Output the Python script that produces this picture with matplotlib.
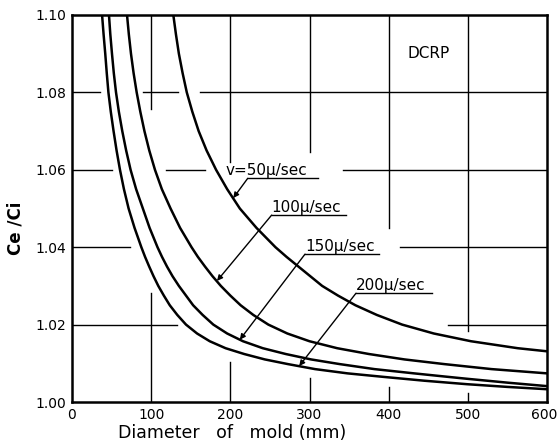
import matplotlib
matplotlib.use("Agg")
import matplotlib.pyplot as plt
import matplotlib.transforms as mtransforms

# curves (diameter in mm, Ce/Ci)
d_50 = [128, 131.3, 135, 139.7, 145, 152, 160, 170, 182, 196, 212, 233, 257, 271, 286, 301, 316, 336, 358, 385, 417, 457, 504, 563, 600]
r_50 = [1.100, 1.095, 1.090, 1.085, 1.080, 1.075, 1.070, 1.065, 1.060, 1.055, 1.050, 1.045, 1.040, 1.0375, 1.035, 1.0325, 1.030, 1.0275, 1.025, 1.0225, 1.020, 1.0177, 1.0157, 1.0139, 1.0131]

d_100 = [69.5, 71.8, 74.5, 77.8, 81.7, 86.3, 91.5, 97.6, 104.8, 113.5, 124.5, 136.5, 151, 159, 168, 177.5, 188, 200, 213, 229, 248, 272, 300, 335, 375, 420, 470, 530, 600]
r_100 = [1.100, 1.095, 1.090, 1.085, 1.080, 1.075, 1.070, 1.065, 1.060, 1.055, 1.050, 1.045, 1.040, 1.0375, 1.035, 1.0325, 1.030, 1.0275, 1.025, 1.0225, 1.020, 1.0177, 1.0157, 1.0139, 1.0124, 1.0110, 1.0098, 1.0085, 1.0074]

d_150 = [46.7, 48.4, 50.5, 52.8, 55.6, 59.2, 63.5, 68.4, 74, 81, 89.5, 98, 108, 113.7, 120, 127, 135, 144, 153, 165, 178.5, 196, 216, 241, 270, 302, 338, 382, 432, 470, 499, 550, 600]
r_150 = [1.100, 1.095, 1.090, 1.085, 1.080, 1.075, 1.070, 1.065, 1.060, 1.055, 1.050, 1.045, 1.040, 1.0375, 1.035, 1.0325, 1.030, 1.0275, 1.025, 1.0225, 1.020, 1.0177, 1.0157, 1.0139, 1.0124, 1.0110, 1.0098, 1.0085, 1.0074, 1.0066, 1.0060, 1.0050, 1.0041]

d_200 = [38, 39.9, 42, 43.9, 46, 49, 52.5, 56.3, 60.6, 65.6, 71.5, 79, 87.6, 92.3, 97.5, 103, 109, 116, 123.5, 133, 144, 158, 174, 194, 217.5, 243.6, 272.6, 307, 348, 393, 445, 499, 550, 600]
r_200 = [1.100, 1.095, 1.090, 1.085, 1.080, 1.075, 1.070, 1.065, 1.060, 1.055, 1.050, 1.045, 1.040, 1.0375, 1.035, 1.0325, 1.030, 1.0275, 1.025, 1.0225, 1.020, 1.0177, 1.0157, 1.0139, 1.0124, 1.0110, 1.0098, 1.0085, 1.0074, 1.0065, 1.0055, 1.0046, 1.0039, 1.0033]

labels = ["v=50\u00b5/sec", "100\u00b5/sec", "150\u00b5/sec", "200\u00b5/sec"]

xticks = [0, 100, 200, 300, 400, 500, 600]
yticks = [1.00, 1.02, 1.04, 1.06, 1.08, 1.10]

# broken grid of the original drawing
vgrid = [(100, 1.0756, 1.10), (100, 1.00, 1.0281),
         (200, 1.062, 1.10), (200, 1.00, 1.0103),
         (300, 1.0645, 1.10), (300, 1.00, 1.0062),
         (400, 1.045, 1.10), (400, 1.00, 1.0039),
         (500, 1.0183, 1.10), (500, 1.00, 1.0023)]
hgrid = [(1.08, 0, 35), (1.08, 90, 134), (1.08, 162, 600),
         (1.06, 0, 50), (1.06, 119, 168), (1.06, 342, 600),
         (1.04, 0, 73), (1.04, 414, 600),
         (1.02, 0, 132), (1.02, 475, 600)]

fig = plt.figure(figsize=(5.58, 4.47), dpi=100)
ax = fig.add_axes([72/558, 1-402/447, 475/558, 387/447])

for x, y0, y1 in vgrid:
    ax.plot([x, x], [y0, y1], color='black', lw=1.0)
for y, x0, x1 in hgrid:
    ax.plot([x0, x1], [y, y], color='black', lw=1.0)

for d, r in [(d_50, r_50), (d_100, r_100), (d_150, r_150), (d_200, r_200)]:
    ax.plot(d, r, color='black', lw=1.8, solid_joinstyle='round')

# labels: text, underline and arrow to the curve
# (text left x, text y, underline x0, x1, y, arrow tip x, y)
lab_pos = [(194.5, 1.0599, 222, 310.7, 1.0578, 203.7, 1.0527),
           (252.2, 1.0502, 252.2, 345.7, 1.0483, 183.2, 1.0313),
           (294.3, 1.0401, 294.3, 387.8, 1.0382, 212, 1.0161),
           (358.7, 1.0300, 358.7, 454.7, 1.0281, 287, 1.0093)]
for lab, (tx, ty, u0, u1, uy, ax_, ay) in zip(labels, lab_pos):
    ax.text(tx, ty, lab, fontsize=11, va='center', ha='left')
    ax.plot([u0, u1], [uy, uy], color='black', lw=1.0)
    ax.annotate('', xy=(ax_, ay), xytext=(u0, uy),
                arrowprops=dict(arrowstyle='-|>', color='black', lw=1.0,
                                mutation_scale=8, shrinkA=0, shrinkB=0))

ax.text(450, 1.090, "DCRP", fontsize=11, ha='center', va='center')

ax.set_xlim(0, 600)
ax.set_ylim(1.00, 1.10)
ax.set_xticks(xticks)
ax.set_yticks(yticks)
ax.set_xticklabels([str(t) for t in xticks])
ax.set_yticklabels(["%.2f" % t for t in yticks])
ax.tick_params(length=0, labelsize=10, pad=4)
last = ax.get_xticklabels()[-1]
last.set_horizontalalignment('right')
last.set_transform(last.get_transform() +
                   mtransforms.ScaledTranslation(0.105, 0, fig.dpi_scale_trans))
for s in ax.spines.values():
    s.set_linewidth(1.8)

fig.text(232/558, 1-433/447, "Diameter   of   mold (mm)", fontsize=12.5,
         ha='center', va='center')
fig.text(16/558, 1-228/447, "Ce /Ci", fontsize=12, rotation=90,
         ha='center', va='center', fontweight='bold')

fig.savefig("out.png", dpi=100)
